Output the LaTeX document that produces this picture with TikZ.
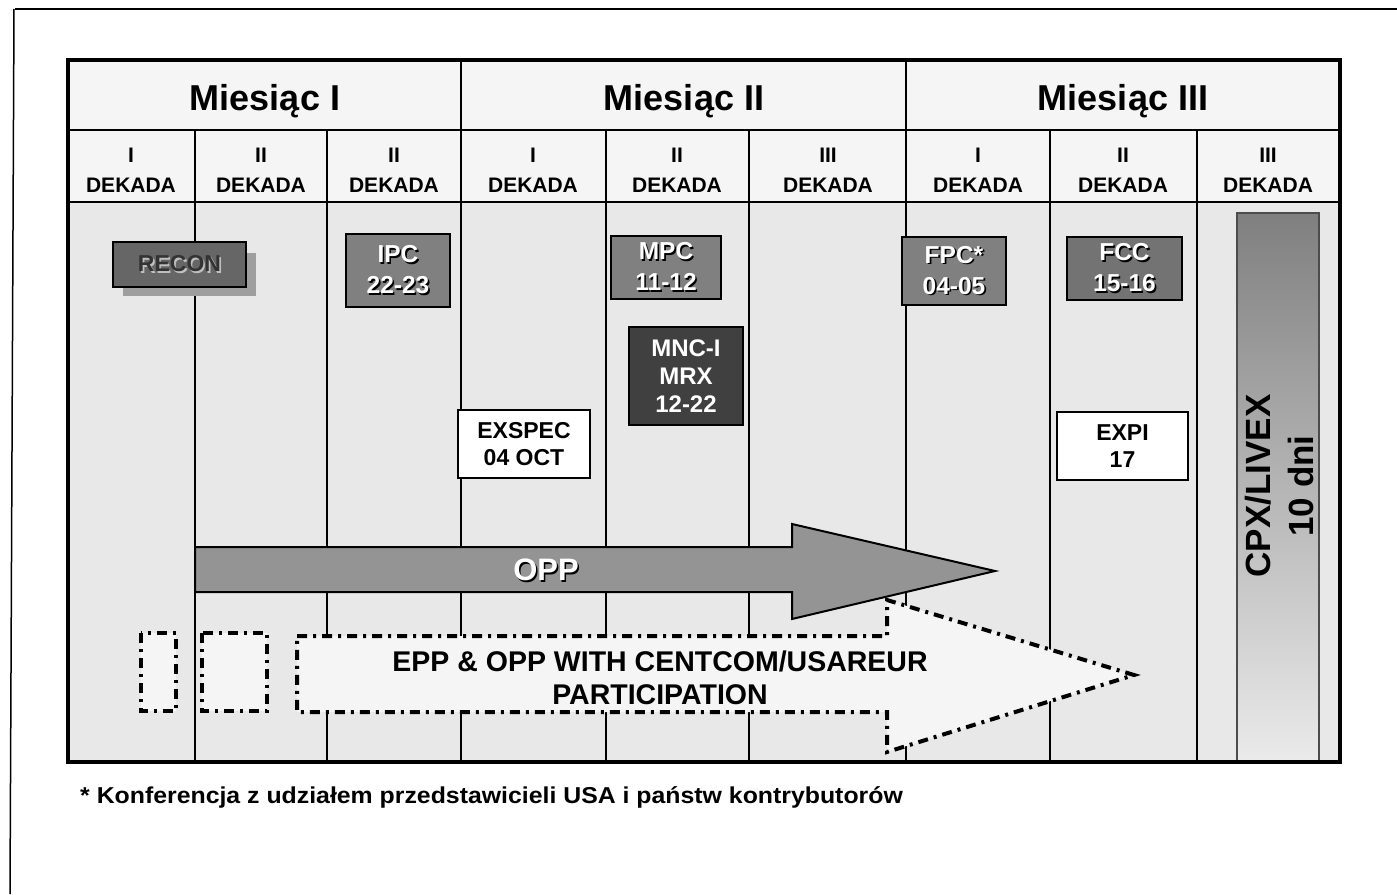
\documentclass[tikz,border=0pt]{standalone}
\usepackage{fontspec}
\setmainfont{Liberation Sans}
\newcommand\txtsh[1]{\makebox[0pt][l]{\hspace{1.6pt}\raisebox{-1.6pt}{\color{black}#1}}#1}
\newcommand\txtshl[1]{\makebox[0pt][l]{\hspace{1.6pt}\raisebox{-1.6pt}{\color{black!25}#1}}#1}
\begin{document}
\begin{tikzpicture}[x=1pt,y=-1pt,
  gridline/.style={line width=2pt},
  month/.style={font=\bfseries\fontsize{36}{40}\selectfont},
  dek/.style={font=\bfseries\fontsize{21}{30}\selectfont,align=center},
  gbox/.style={draw=black,line width=2pt,fill=#1,text=white,
    font=\bfseries\fontsize{24.5}{31}\selectfont,align=center,inner sep=0pt},
  wbox/.style={draw=black,line width=1.5pt,fill=white,text=black,
    font=\bfseries\fontsize{23}{27}\selectfont,align=center,inner sep=0pt},
  dashdot/.style={line width=4pt,dash pattern=on 10pt off 6pt on 3pt off 6pt,fill=black!4}
]
\useasboundingbox (0,0) rectangle (1397,894);
\fill[white] (0,0) rectangle (1397,894);
% page frame
\draw[line width=1.5pt] (15,9) -- (1397,9);
\draw[line width=1.5pt] (14,9) -- (10,894);
% table backgrounds
\fill[black!4] (68,60) rectangle (1340,202);
\fill[black!9] (68,202) rectangle (1340,762);
% grid
\draw[gridline] (68,130) -- (1340,130);
\draw[gridline] (68,202) -- (1340,202);
\draw[gridline] (461,60) -- (461,130);
\draw[gridline] (906,60) -- (906,130);
\foreach \x in {195,327,461,606,749,906,1050,1197}
  \draw[gridline] (\x,130) -- (\x,762);
% month labels
\node[month] (m1) at (265,101) {Miesiąc I};
\node[month] (m2) at (684,101) {Miesiąc II};
\node[month] (m3) at (1123,101) {Miesiąc III};
% decade labels
\node[dek] (d1) at (131,170) {I\\DEKADA};
\node[dek] (d2) at (261,170) {II\\DEKADA};
\node[dek] (d3) at (394,170) {II\\DEKADA};
\node[dek] (d4) at (533,170) {I\\DEKADA};
\node[dek] (d5) at (677,170) {II\\DEKADA};
\node[dek] (d6) at (828,170) {III\\DEKADA};
\node[dek] (d7) at (978,170) {I\\DEKADA};
\node[dek] (d8) at (1123,170) {II\\DEKADA};
\node[dek] (d9) at (1268,170) {III\\DEKADA};
% CPX/LIVEX bar
\path[draw=black!70,line width=1.5pt,top color=black!50,bottom color=black!8]
  (1237,213) rectangle (1319,762);
\node[font=\bfseries\fontsize{35}{43}\selectfont,align=center,rotate=90] (cpx) at (1279,486) {CPX/LIVEX\\10 dni};
% boxes
\fill[black!38] (123,253) rectangle (256,296);
\node[gbox=black!60,text=black!80,font=\bfseries\fontsize{23}{27}\selectfont,minimum width=133pt,minimum height=45pt] (recon) at (179.5,264.5) {\txtshl{RECON}};
\node[gbox=black!50,minimum width=104pt,minimum height=73pt] (ipc) at (398,270.5) {\txtsh{IPC}\\\txtsh{22-23}};
\node[gbox=black!50,minimum width=110pt,minimum height=63pt] (mpc) at (666,267.5) {\txtsh{MPC}\\\txtsh{11-12}};
\node[gbox=black!75,minimum width=114pt,minimum height=98pt,font=\bfseries\fontsize{24}{28}\selectfont] (mnc) at (686,376) {MNC-I\\MRX\\12-22};
\node[gbox=black!50,minimum width=104pt,minimum height=68pt] (fpc) at (954,271) {\txtsh{FPC*}\\\txtsh{04-05}};
\node[gbox=black!55,minimum width=115pt,minimum height=63pt] (fcc) at (1124.5,268.5) {\txtsh{FCC}\\\txtsh{15-16}};
\node[wbox,minimum width=132pt,minimum height=68pt] (exspec) at (524,444) {EXSPEC\\04 OCT};
\node[wbox,minimum width=131pt,minimum height=68pt] (expi) at (1122.5,446) {EXPI\\17};
% EPP dash-dot arrow and boxes
\draw[dashdot] (141,633) rectangle (176,711);
\draw[dashdot] (202,633) rectangle (267,711);
\draw[dashdot] (297,636) -- (887,636) -- (887,600) -- (1134,675) -- (887,752) -- (887,712) -- (297,712) -- cycle;
\node[font=\bfseries\fontsize{28.5}{33}\selectfont,align=center] (epp) at (660,678) {EPP \& OPP WITH  CENTCOM/USAREUR\\PARTICIPATION};
% OPP arrow
\draw[line width=2pt,fill=black!42] (195,547) -- (792,547) -- (792,524) -- (995,571) -- (792,619) -- (792,592) -- (195,592) -- cycle;
\node[font=\bfseries\fontsize{31}{35}\selectfont,text=white] (opp) at (546,571) {\txtsh{OPP}};
% outer border
\draw[line width=4pt] (68,60) rectangle (1340,762);
% footnote
\node[anchor=west,font=\bfseries\fontsize{23}{26}\selectfont,xscale=1.08,inner sep=0pt] (note) at (80,797) {* Konferencja z udziałem przedstawicieli USA i państw kontrybutorów};
\end{tikzpicture}
\end{document}
